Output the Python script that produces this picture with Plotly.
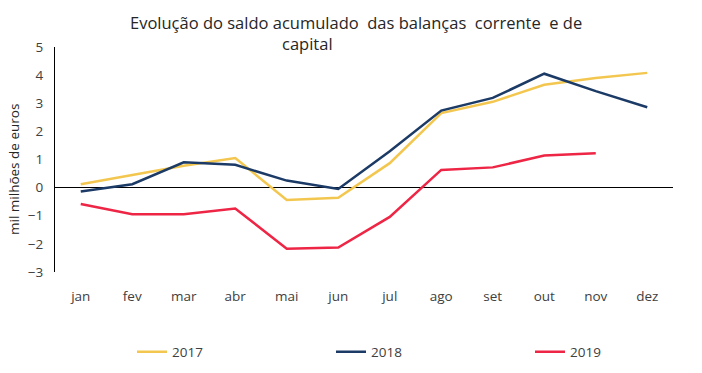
import plotly.graph_objects as go

months = ["jan", "fev", "mar", "abr", "mai", "jun", "jul", "ago", "set", "out", "nov", "dez"]
y2017 = [0.12, 0.45, 0.78, 1.05, -0.44, -0.36, 0.87, 2.65, 3.05, 3.66, 3.9, 4.08]
y2018 = [-0.14, 0.12, 0.9, 0.81, 0.25, -0.05, 1.29, 2.74, 3.19, 4.05, 3.43, 2.86]
y2019 = [-0.58, -0.95, -0.95, -0.74, -2.17, -2.13, -1.04, 0.63, 0.72, 1.14, 1.22]

FONT = "Open Sans"
TXT = "#404040"

def px_x(px):
    return (px - 55) / 618

def px_y(py):
    return (272 - py) / 225

fig = go.Figure()
for name, vals, col in [("2017", y2017, "#F3C74F"), ("2018", y2018, "#1B3A66"), ("2019", y2019, "#EE2545")]:
    fig.add_trace(go.Scatter(x=months[:len(vals)], y=vals, name=name, mode="lines",
                             line=dict(color=col, width=2.5)))

fig.update_layout(
    width=702, height=373,
    margin=dict(l=55, r=29, t=47, b=101),
    paper_bgcolor="white", plot_bgcolor="white",
    font=dict(family=FONT, size=13, color=TXT),
    showlegend=True,
    legend=dict(orientation="h", xref="container", yref="container",
                x=132/702, y=1-352/373, xanchor="left", yanchor="middle",
                entrywidth=154, entrywidthmode="pixels",
                font=dict(family=FONT, size=13.5, color=TXT)),
    xaxis=dict(type="category", range=[-0.5, 11.5], showgrid=False, zeroline=False,
               showline=False, ticks="outside", ticklen=12, tickcolor="rgba(0,0,0,0)",
               tickfont=dict(size=13.5, color=TXT)),
    yaxis=dict(range=[-3, 5], dtick=1, showgrid=False, zeroline=True, zerolinecolor="black",
               zerolinewidth=1, showline=True, linecolor="black", linewidth=1,
               ticks="", ticklabelstandoff=8, tickfont=dict(size=13.5, color=TXT)),
    annotations=[
        dict(text="Evolução do saldo acumulado  das balanças  corrente  e de", xref="paper", yref="paper",
             x=px_x(356), y=px_y(23), xanchor="center", yanchor="middle", showarrow=False,
             font=dict(family=FONT, size=16.5, color="#262626")),
        dict(text="capital", xref="paper", yref="paper",
             x=px_x(307), y=px_y(44), xanchor="center", yanchor="middle", showarrow=False,
             font=dict(family=FONT, size=16.5, color="#262626")),
        dict(text="mil milhões de euros", xref="paper", yref="paper", textangle=-90,
             x=px_x(14), y=px_y(170), xanchor="center", yanchor="middle", showarrow=False,
             font=dict(family=FONT, size=13.5, color="#262626")),
    ],
)

fig.write_html("out.html", config={"displayModeBar": False},
               post_script="document.body.style.margin='0';")
